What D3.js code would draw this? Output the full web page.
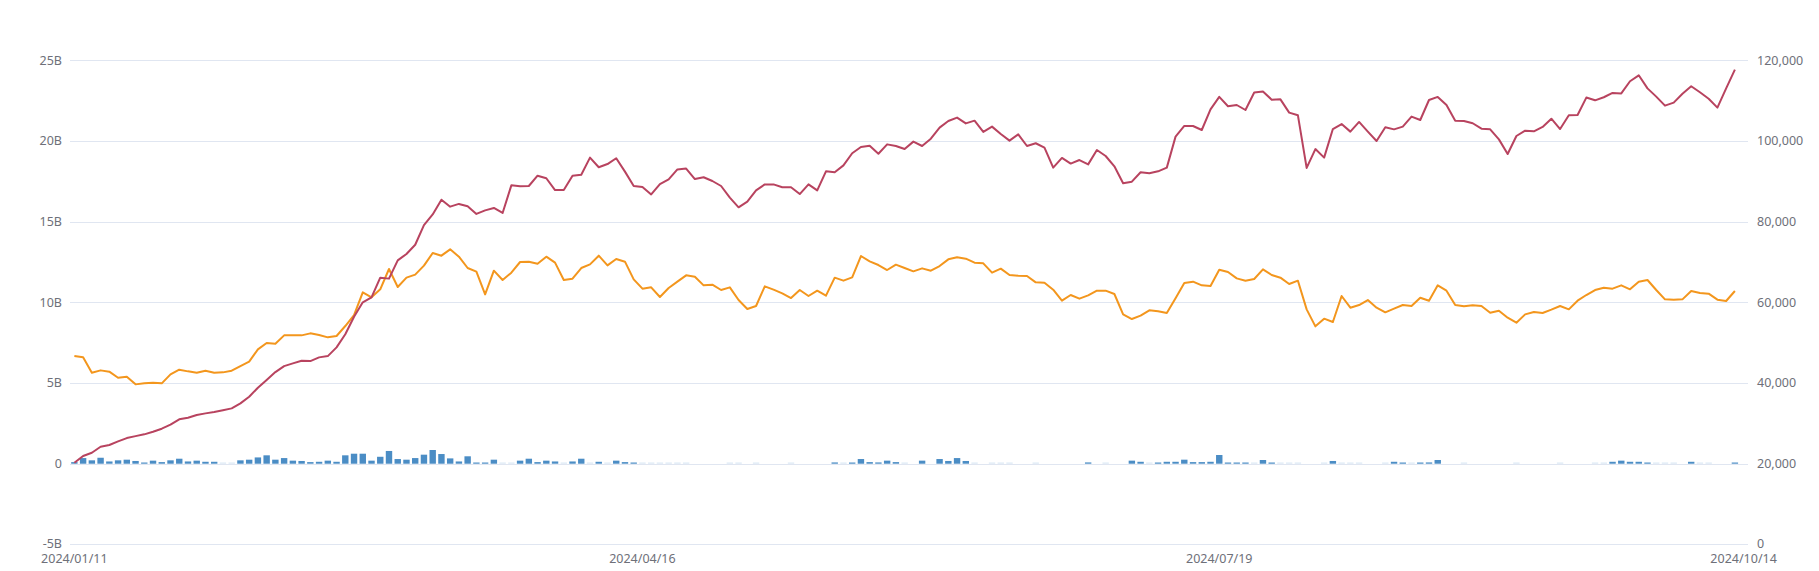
<!DOCTYPE html>
<html>
<head>
<meta charset="utf-8">
<script src="https://cdn.jsdelivr.net/npm/d3@7"></script>
<style>
  html, body { margin: 0; padding: 0; background: #ffffff; }
  svg { display: block; }
  text { font-family: "Noto Sans", "Open Sans", sans-serif; }
</style>
</head>
<body>
<svg id="chart" width="1819" height="571"></svg>
<script>
// ---- categories: US trading days 2024/01/11 .. 2024/10/14 (Juneteenth kept) ----
const startDate = "2024-01-11";
const endDate = "2024-10-14";
const closedDays = ["2024-01-15", "2024-02-19", "2024-03-29", "2024-05-27", "2024-07-04", "2024-09-02"];

// ---- axis tick labels ----
const leftTicks = [-5, 0, 5, 10, 15, 20, 25];          // billions
const rightTicks = [0, 20000, 40000, 60000, 80000, 100000, 120000];
const dateLabels = ["2024/01/11", "2024/04/16", "2024/07/19", "2024/10/14"];

// ---- series: net assets (B, left axis) ----
const netAssets = [
  0.06,0.48,0.68,1.05,1.16,1.38,1.59,1.71,1.82,1.98,2.17,2.42,2.75,2.85,3.02,3.12,3.20,3.31,3.43,3.74,
  4.15,4.71,5.19,5.68,6.05,6.22,6.38,6.36,6.59,6.67,7.21,8.02,9.11,10.0,10.31,11.53,11.47,12.60,13.0,13.57,
  14.79,15.45,16.36,15.93,16.10,15.95,15.48,15.70,15.85,15.54,
  17.25,17.19,17.21,17.85,17.69,16.96,16.96,17.85,17.91,18.97,18.37,18.57,18.93,18.10,17.21,
  17.15,16.69,17.33,17.62,18.24,18.29,17.64,17.75,17.52,17.21,16.49,15.89,16.24,16.94,17.31,
  17.31,17.13,17.13,16.71,17.31,16.94,18.12,18.06,18.49,19.24,19.63,19.71,19.21,19.79,19.69,
  19.50,19.96,19.69,20.14,20.83,
  21.24,21.45,21.09,21.26,20.56,20.89,20.43,20.02,20.41,19.69,19.86,19.59,18.35,18.95,18.60,
  18.82,18.55,19.44,19.07,18.43,17.38,17.48,18.06,18.0,18.12,18.35,20.27,20.93,20.93,20.68,
  21.96,22.73,22.15,22.23,21.92,23.0,23.06,22.56,22.58,21.76,21.59,18.33,19.50,18.97,20.74,
  21.05,20.58,21.18,20.58,20.0,
  20.85,20.72,20.89,21.51,21.30,22.54,22.73,22.23,21.26,21.24,21.10,20.76,20.72,20.10,19.19,
  20.31,20.64,20.60,20.87,21.38,20.74,21.59,21.61,22.69,22.52,22.71,22.98,22.95,23.70,24.07,
  23.26,22.75,22.19,22.38,22.93,23.39,23.02,22.62,22.07,23.26,24.42
];

// ---- series: BTC price (right axis) ----
const btcPrice = [
  46694,46364,42562,43140,42810,41322,41570,39669,39917,40083,39917,42149,43306,42893,42562,43058,42562,42645,43058,44215,
  45289,48347,49917,49752,51818,51818,51818,52314,51901,51322,51653,54132,56860,62479,61240,63223,68264,63802,66116,66860,
  69091,72231,71570,73140,71322,68512,67603,61983,67851,65537,
  67355,70000,70083,69587,71322,69835,65537,65868,68512,69422,71570,69174,70744,70083,65702,63388,63719,61322,63554,65124,
  66694,66364,64215,64380,63058,63719,60579,58347,59091,63967,63140,62231,61074,63058,61570,62893,61653,66116,65372,66198,
  71488,70165,69256,68017,69339,68512,67686,68430,67851,69008,
  70661,71157,70826,69835,69669,67355,68347,66777,66612,66529,64959,64876,63140,60413,61818,60909,61736,62893,62893,62066,
  57025,55868,56694,58017,57769,57355,60992,64793,65124,64215,64050,68099,67521,65950,65372,65785,68182,66777,66116,64545,
  65372,58264,54050,55950,55124,61570,58678,59339,60579,58678,
  57521,58430,59339,59091,61157,60413,64215,62893,59339,59008,59256,59091,57438,57934,56198,54959,57025,57603,57355,58182,
  59091,58264,60413,61818,63058,63636,63388,64215,63223,65124,65537,63058,60744,60661,60744,62810,62314,62149,60661,60331,
  62810
];

// ---- series: daily net flow (B, left axis) ----
const dailyFlow = [
  0.10,0.35,0.21,0.37,0.14,0.21,0.25,0.17,0.06,0.19,0.10,0.21,0.31,0.14,0.19,0.12,0.12,0.03,0.03,0.21,
  0.25,0.39,0.52,0.25,0.35,0.19,0.17,0.10,0.12,0.19,0.12,0.52,0.62,0.62,0.19,0.43,0.79,0.29,0.25,0.35,
  0.56,0.85,0.60,0.33,0.14,0.46,0.06,0.06,0.25,0.03,0.03,0.19,0.31,0.10,0.19,0.14,0.03,0.14,0.31,0.02,
  0.12,0.03,0.19,0.10,0.06,0.03,0.03,0.03,0.03,0.03,0.03,0,0,0,0,0.02,0.02,0,0.02,0,
  0,0,0.02,0,0,0,0,0.08,0.03,0.05,0.29,0.10,0.08,0.19,0.10,0.03,0,0.19,0,0.29,
  0.17,0.35,0.17,0.03,0,0.03,0.03,0.02,0,0,0.02,0,0,0,0,0,0.08,0,0.03,0,
  0,0.19,0.12,0.03,0.06,0.12,0.12,0.25,0.10,0.10,0.12,0.54,0.06,0.06,0.06,0.03,0.23,0.06,0.03,0.03,
  0.03,0,0,0.03,0.17,0.03,0.03,0.03,0,0,0.03,0.12,0.06,0.03,0.06,0.08,0.23,0,0,0.02,
  0,0,0,0,0,0.02,0,0,0,0,0.02,0,0,0,0.02,0.03,0.12,0.19,0.12,0.12,
  0.06,0.03,0.03,0.03,0,0.12,0.03,0.03,0,0,0.06
];

// build trading-day categories
const fmtIn = d3.timeFormat("%Y-%m-%d");
const fmtOut = d3.timeFormat("%Y/%m/%d");
const categories = d3.timeDays(new Date(startDate + "T00:00:00"), d3.timeDay.offset(new Date(endDate + "T00:00:00"), 1))
  .filter(d => d.getDay() !== 0 && d.getDay() !== 6 && !closedDays.includes(fmtIn(d)))
  .map(d => fmtOut(d));

const svg = d3.select("#chart");
svg.append("rect").attr("width", 1819).attr("height", 571).attr("fill", "#ffffff");

const x = d3.scaleBand().domain(d3.range(categories.length)).range([70, 1748]).paddingInner(0).paddingOuter(0);
const cx = i => x(i) + x.bandwidth() / 2;
const yL = d3.scaleLinear().domain([-5, 25]).range([544.4, 60.3]);
const yR = d3.scaleLinear().domain([0, 120000]).range([544.4, 60.3]);

const labelColor = "#6E7079";
const gridColor = "#E0E6F1";
const fs = 12.5;

// gridlines
svg.append("g").selectAll("line").data(leftTicks).join("line")
  .attr("x1", 70).attr("x2", 1748)
  .attr("y1", d => Math.round(yL(d)) + 0.5).attr("y2", d => Math.round(yL(d)) + 0.5)
  .attr("stroke", gridColor).attr("stroke-width", 1);

// left axis labels
svg.append("g").selectAll("text").data(leftTicks).join("text")
  .attr("x", 62).attr("y", d => yL(d) - (d === -5 ? 1 : 0)).attr("dy", "0.35em")
  .attr("text-anchor", "end").attr("font-size", fs).attr("fill", labelColor)
  .text(d => d === 0 ? "0" : d + "B");

// right axis labels
svg.append("g").selectAll("text").data(rightTicks).join("text")
  .attr("x", 1757).attr("y", d => yR(d) - (d === 0 ? 1 : 0)).attr("dy", "0.35em")
  .attr("text-anchor", "start").attr("font-size", fs).attr("fill", labelColor)
  .text(d => d3.format(",")(d));

// x labels
svg.append("g").selectAll("text").data(dateLabels).join("text")
  .attr("x", d => cx(categories.indexOf(d)))
  .attr("y", 559).attr("dy", "0.35em")
  .attr("text-anchor", "middle").attr("font-size", fs).attr("fill", labelColor)
  .text(d => d);

// bars
const barW = 6.4;
svg.append("g").selectAll("rect").data(dailyFlow.map((v, i) => ({v, i})).filter(d => d.v !== 0)).join("rect")
  .attr("x", d => cx(d.i) - barW / 2)
  .attr("width", barW)
  .attr("y", d => Math.min(yL(d.v), yL(0) - 1.2))
  .attr("height", d => Math.max(yL(0) - yL(d.v), 1.2))
  .attr("fill", d => d.v < 0.045 ? "#dbe8f4" : "#4b8dc5");

// lines
const lineOrange = d3.line().x((d, i) => cx(i)).y(d => yR(d));
const lineRed = d3.line().x((d, i) => cx(i)).y(d => yL(d));

svg.append("path").datum(btcPrice)
  .attr("d", lineOrange).attr("fill", "none")
  .attr("stroke", "#F3961D").attr("stroke-width", 2).attr("stroke-linejoin", "round");

svg.append("path").datum(netAssets)
  .attr("d", lineRed).attr("fill", "none")
  .attr("stroke", "#B8435F").attr("stroke-width", 2).attr("stroke-linejoin", "round");
</script>
</body>
</html>
